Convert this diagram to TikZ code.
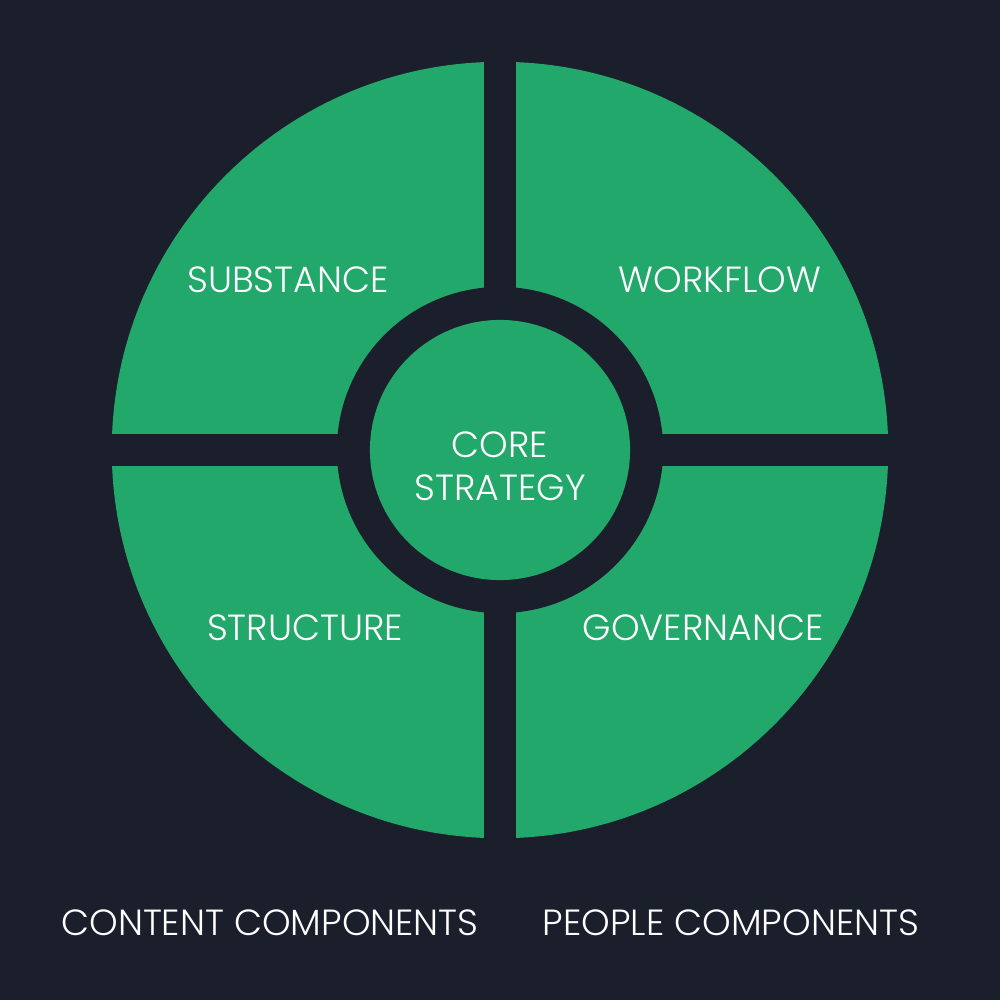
\documentclass[tikz,border=0pt]{standalone}
\usepackage{fontspec}
\setmainfont{Poppins Light}
\definecolor{bgdark}{HTML}{1A1F2B}
\definecolor{leaf}{HTML}{22A86A}
\begin{document}
\begin{tikzpicture}[x=0.01cm,y=-0.01cm,
  lbl/.style={text=white,font=\fontsize{10.35}{12.3}\selectfont,inner sep=0pt,align=center},
  foot/.style={text=white,font=\fontsize{10.35}{12}\selectfont,inner sep=0pt}]
\fill[bgdark] (0,0) rectangle (1000,1000);
\useasboundingbox (0,0) rectangle (1000,1000);
\coordinate (c) at (500,450);
\fill[leaf] (c) circle[radius=3.88cm];
\fill[bgdark] (484,50) rectangle (516,850);
\fill[bgdark] (100,434) rectangle (900,466);
\fill[bgdark] (c) circle[radius=1.63cm];
\fill[leaf] (c) circle[radius=1.30cm];
\node[lbl] (sub) at (288,280) {SUBSTANCE};
\node[lbl] (wf) at (720,280) {WORKFLOW};
\node[lbl] (str) at (305,628) {STRUCTURE};
\node[lbl] (gov) at (703,628) {GOVERNANCE};
\node[lbl] (core) at (500,466) {CORE\\STRATEGY};
\node[foot] (cc) at (270,923) {CONTENT COMPONENTS};
\node[foot] (pc) at (731,923) {PEOPLE COMPONENTS};
\end{tikzpicture}
\end{document}
